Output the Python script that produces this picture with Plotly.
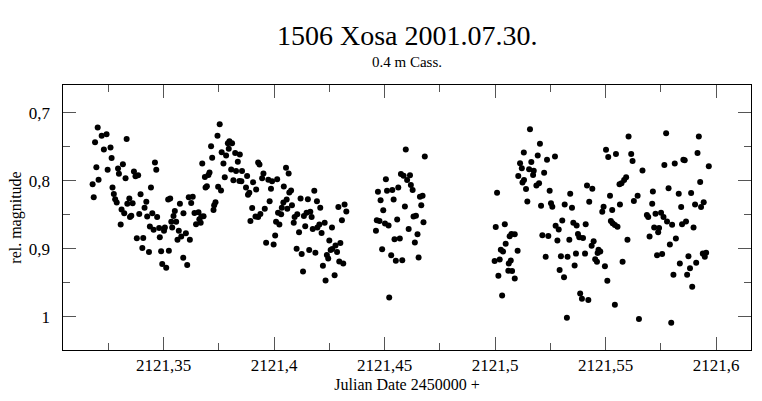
import plotly.graph_objects as go

# Light curve of (1506) Xosa, 2001-07-30, 0.4 m Cassegrain.
# Each segment: (JD - 2450000, relative magnitude)
seg1 = [
    (2121.3202, 0.7217), (2121.3190, 0.7434), (2121.3220, 0.7337), (2121.3242, 0.7313),
    (2121.3230, 0.7540), (2121.3260, 0.7511), (2121.3333, 0.7385), (2121.3265, 0.7665),
    (2121.3196, 0.7800), (2121.3247, 0.7838), (2121.3316, 0.7756), (2121.3294, 0.7819),
    (2121.3298, 0.7896), (2121.3206, 0.7983), (2121.3179, 0.8050), (2121.3184, 0.8243),
    (2121.3328, 0.7963), (2121.3366, 0.7862), (2121.3373, 0.7934), (2121.3385, 0.7920),
    (2121.3461, 0.7732), (2121.3467, 0.7838), (2121.3269, 0.8098), (2121.3443, 0.8098),
    (2121.3275, 0.8195), (2121.3281, 0.8272), (2121.3288, 0.8320), (2121.3345, 0.8262),
    (2121.3360, 0.8329), (2121.3336, 0.8339), (2121.3396, 0.8199), (2121.3422, 0.8310),
    (2121.3414, 0.8397), (2121.3310, 0.8421), (2121.3322, 0.8479), (2121.3354, 0.8513),
    (2121.3348, 0.8532), (2121.3390, 0.8488), (2121.3449, 0.8479), (2121.3426, 0.8527),
    (2121.3471, 0.8532), (2121.3306, 0.8643), (2121.3521, 0.8276), (2121.3530, 0.8262),
    (2121.3574, 0.8339), (2121.3551, 0.8445), (2121.3545, 0.8517), (2121.3535, 0.8604),
    (2121.3557, 0.8604), (2121.3539, 0.8686), (2121.3438, 0.8671), (2121.3455, 0.8720),
    (2121.3480, 0.8696), (2121.3506, 0.8686), (2121.3502, 0.8734), (2121.3483, 0.8830),
    (2121.3569, 0.8734), (2121.3563, 0.8869), (2121.3379, 0.8845), (2121.3408, 0.8840),
    (2121.3404, 0.8989), (2121.3434, 0.9047), (2121.3489, 0.9038), (2121.3524, 0.9028),
    (2121.3494, 0.9225), (2121.3512, 0.9278),
]

seg2 = [
    (2121.3754, 0.7169), (2121.3744, 0.7337), (2121.3715, 0.7491), (2121.3791, 0.7448),
    (2121.3798, 0.7419), (2121.3810, 0.7448), (2121.3795, 0.7530), (2121.3763, 0.7578),
    (2121.3783, 0.7626), (2121.3720, 0.7660), (2121.3824, 0.7592), (2121.3845, 0.7612),
    (2121.3836, 0.7718), (2121.3675, 0.7747), (2121.3928, 0.7732), (2121.3934, 0.7761),
    (2121.3771, 0.7747), (2121.3806, 0.7833), (2121.3828, 0.7857), (2121.3855, 0.7857),
    (2121.3708, 0.7877), (2121.3703, 0.7915), (2121.3687, 0.7944), (2121.3777, 0.7949),
    (2121.3878, 0.7930), (2121.3952, 0.7891), (2121.3946, 0.7963), (2121.4054, 0.7809),
    (2121.4066, 0.7891), (2121.3816, 0.7992), (2121.3843, 0.8002), (2121.3852, 0.8007),
    (2121.3974, 0.7983), (2121.3991, 0.8007), (2121.4014, 0.7978), (2121.3905, 0.8021),
    (2121.3696, 0.8079), (2121.3690, 0.8098), (2121.3747, 0.8089), (2121.3760, 0.8142),
    (2121.3873, 0.8098), (2121.3919, 0.8127), (2121.3986, 0.8118), (2121.4044, 0.8084),
    (2121.3888, 0.8175), (2121.3882, 0.8204), (2121.4069, 0.8171), (2121.3614, 0.8243),
    (2121.3632, 0.8233), (2121.3625, 0.8325), (2121.3590, 0.8479), (2121.3640, 0.8474),
    (2121.3658, 0.8464), (2121.3671, 0.8527), (2121.3681, 0.8522), (2121.3662, 0.8566),
    (2121.3647, 0.8638), (2121.3668, 0.8619), (2121.3735, 0.8315), (2121.3729, 0.8358),
    (2121.3726, 0.8431), (2121.3901, 0.8402), (2121.3980, 0.8301), (2121.3958, 0.8411),
    (2121.3938, 0.8488), (2121.3916, 0.8527), (2121.3928, 0.8532), (2121.3893, 0.8590),
    (2121.4057, 0.8276), (2121.4042, 0.8320), (2121.4035, 0.8397), (2121.4018, 0.8469),
    (2121.4032, 0.8493), (2121.4060, 0.8411), (2121.4009, 0.8604), (2121.4024, 0.8643),
    (2121.4005, 0.8806), (2121.3964, 0.8912), (2121.3998, 0.8936), (2121.3601, 0.8773),
    (2121.3580, 0.8821), (2121.3619, 0.8869), (2121.3589, 0.9134), (2121.3607, 0.9240),
]

seg3 = [
    (2121.4077, 0.8142), (2121.4081, 0.8358), (2121.4093, 0.8532), (2121.4089, 0.8619),
    (2121.4102, 0.8999), (2121.4125, 0.9076), (2121.4131, 0.9336), (2121.4105, 0.8493),
    (2121.4120, 0.8262), (2121.4153, 0.8272), (2121.4182, 0.8146), (2121.4194, 0.8301),
    (2121.4209, 0.8397), (2121.4135, 0.8517), (2121.4147, 0.8469), (2121.4164, 0.8455),
    (2121.4170, 0.8532), (2121.4141, 0.8667), (2121.4113, 0.8758), (2121.4175, 0.8710),
    (2121.4196, 0.8686), (2121.4205, 0.8643), (2121.4215, 0.8768), (2121.4229, 0.8619),
    (2121.4262, 0.8686), (2121.4159, 0.9018), (2121.4187, 0.9057), (2121.4250, 0.8879),
    (2121.4300, 0.8917), (2121.4278, 0.8951), (2121.4263, 0.9004), (2121.4256, 0.9018),
    (2121.4285, 0.9047), (2121.4239, 0.9091), (2121.4245, 0.9144), (2121.4221, 0.9250),
    (2121.4295, 0.9187), (2121.4313, 0.9216), (2121.4233, 0.9466), (2121.4274, 0.9389),
    (2121.4291, 0.8387), (2121.4319, 0.8349), (2121.4327, 0.8450), (2121.4307, 0.8580),
]

seg4 = [
    (2121.4506, 0.7978), (2121.4470, 0.8161), (2121.4511, 0.8146), (2121.4535, 0.8137),
    (2121.4562, 0.8098), (2121.4482, 0.8286), (2121.4541, 0.8276), (2121.4574, 0.7901),
    (2121.4586, 0.7925), (2121.4615, 0.7920), (2121.4602, 0.7987), (2121.4619, 0.8060),
    (2121.4627, 0.8137), (2121.4494, 0.8435), (2121.4592, 0.8378), (2121.4596, 0.7540),
    (2121.4682, 0.7641), (2121.4660, 0.8233), (2121.4672, 0.8219), (2121.4666, 0.8358),
    (2121.4465, 0.8580), (2121.4477, 0.8590), (2121.4461, 0.8734), (2121.4502, 0.8628),
    (2121.4518, 0.8657), (2121.4557, 0.8570), (2121.4631, 0.8527), (2121.4642, 0.8513),
    (2121.4676, 0.8609), (2121.4609, 0.8710), (2121.4649, 0.8787), (2121.4637, 0.8908),
    (2121.4545, 0.8859), (2121.4569, 0.8850), (2121.4489, 0.9009), (2121.4530, 0.9095),
    (2121.4551, 0.9177), (2121.4580, 0.9168), (2121.4654, 0.9129), (2121.4521, 0.9717),
]

seg5 = [
    (2121.5158, 0.7241), (2121.5203, 0.7453), (2121.5130, 0.7583), (2121.5193, 0.7626),
    (2121.5235, 0.7689), (2121.5271, 0.7641), (2121.5164, 0.7723), (2121.5113, 0.7742),
    (2121.5121, 0.7814), (2121.5154, 0.7829), (2121.5175, 0.7853), (2121.5222, 0.7882),
    (2121.5105, 0.7930), (2121.5131, 0.7987), (2121.5124, 0.8026), (2121.5172, 0.7915),
    (2121.5199, 0.8036), (2121.5187, 0.8069), (2121.5140, 0.8122), (2121.5247, 0.8146),
    (2121.5009, 0.8175), (2121.5146, 0.8305), (2121.5208, 0.8368), (2121.5253, 0.8329),
    (2121.5259, 0.8382), (2121.5315, 0.8349), (2121.5044, 0.8638), (2121.5003, 0.8681),
    (2121.5074, 0.8782), (2121.5089, 0.8787), (2121.5066, 0.8816), (2121.5048, 0.8927),
    (2121.5026, 0.9013), (2121.5036, 0.9042), (2121.5102, 0.9028), (2121.5214, 0.8802),
    (2121.5241, 0.8811), (2121.5282, 0.8879), (2121.5274, 0.8662), (2121.5288, 0.8715),
    (2121.5304, 0.8585), (2121.4998, 0.9182), (2121.5021, 0.9158), (2121.5071, 0.9172),
    (2121.5062, 0.9216), (2121.5015, 0.9399), (2121.5060, 0.9322), (2121.5077, 0.9327),
    (2121.5089, 0.9437), (2121.5229, 0.9119), (2121.5298, 0.9110), (2121.5292, 0.9312),
    (2121.5312, 0.9418), (2121.5032, 0.9688),
]

seg6 = [
    (2121.5604, 0.7347), (2121.5502, 0.7544), (2121.5512, 0.7650), (2121.5547, 0.7607),
    (2121.5616, 0.7607), (2121.5622, 0.7708), (2121.5667, 0.7848), (2121.5593, 0.7949),
    (2121.5584, 0.7987), (2121.5563, 0.8050), (2121.5572, 0.8036), (2121.5416, 0.8069),
    (2121.5440, 0.8118), (2121.5340, 0.8190), (2121.5520, 0.8219), (2121.5645, 0.8219),
    (2121.5628, 0.8296), (2121.5348, 0.8397), (2121.5426, 0.8310), (2121.5491, 0.8382),
    (2121.5485, 0.8455), (2121.5530, 0.8431), (2121.5565, 0.8349), (2121.5687, 0.8503),
    (2121.5693, 0.8532), (2121.5524, 0.8590), (2121.5532, 0.8623), (2121.5542, 0.8652),
    (2121.5554, 0.8676), (2121.5354, 0.8619), (2121.5369, 0.8657), (2121.5410, 0.8638),
    (2121.5336, 0.8869), (2121.5375, 0.8782), (2121.5381, 0.8830), (2121.5398, 0.8840),
    (2121.5446, 0.8888), (2121.5437, 0.8956), (2121.5599, 0.8869), (2121.5699, 0.8821),
    (2121.5468, 0.9013), (2121.5476, 0.9042), (2121.5464, 0.9062), (2121.5328, 0.9119),
    (2121.5366, 0.9071), (2121.5407, 0.9071), (2121.5453, 0.9153), (2121.5461, 0.9192),
    (2121.5360, 0.9245), (2121.5497, 0.9259), (2121.5577, 0.9192), (2121.5508, 0.9471),
    (2121.5385, 0.9659), (2121.5393, 0.9736), (2121.5422, 0.9755), (2121.5542, 0.9823),
    (2121.5325, 1.0015), (2121.5651, 1.0035),
]

seg7 = [
    (2121.5774, 0.7299), (2121.5922, 0.7347), (2121.5916, 0.7592), (2121.5766, 0.7766),
    (2121.5813, 0.7747), (2121.5852, 0.7689), (2121.5858, 0.7698), (2121.5967, 0.7785),
    (2121.5928, 0.8016), (2121.5714, 0.8156), (2121.5785, 0.8108), (2121.5831, 0.8190),
    (2121.5887, 0.8180), (2121.5711, 0.8339), (2121.5842, 0.8387), (2121.5905, 0.8349),
    (2121.5932, 0.8387), (2121.5944, 0.8315), (2121.5726, 0.8484), (2121.5751, 0.8469),
    (2121.5762, 0.8532), (2121.5778, 0.8599), (2121.5801, 0.8647), (2121.5846, 0.8638),
    (2121.5864, 0.8599), (2121.5898, 0.8686), (2121.5720, 0.8686), (2121.5742, 0.8696),
    (2121.5738, 0.8758), (2121.5818, 0.8850), (2121.5791, 0.8936), (2121.5733, 0.9095),
    (2121.5756, 0.9076), (2121.5875, 0.9110), (2121.5940, 0.9071), (2121.5955, 0.9057),
    (2121.5949, 0.9119), (2121.5836, 0.9216), (2121.5910, 0.9206), (2121.5882, 0.9288),
    (2121.5807, 0.9384), (2121.5869, 0.9384), (2121.5892, 0.9558), (2121.5797, 1.0088),
]

segments = [seg1, seg2, seg3, seg4, seg5, seg6, seg7]

x_tickvals = [2121.35, 2121.4, 2121.45, 2121.5, 2121.55, 2121.6]
x_ticktext = ["2121,35", "2121,4", "2121,45", "2121,5", "2121,55", "2121,6"]
x_minor = [2121.325, 2121.375, 2121.425, 2121.475, 2121.525, 2121.575]
y_tickvals = [0.7, 0.8, 0.9, 1.0]
y_ticktext = ["0,7", "0,8", "0,9", "1"]
y_minor = [0.75, 0.85, 0.95]

jd = [p[0] for s in segments for p in s]
mag = [p[1] for s in segments for p in s]

fig = go.Figure(go.Scatter(
    x=jd, y=mag, mode="markers",
    marker=dict(size=6, color="black", line=dict(width=0)),
    hoverinfo="x+y",
))

serif = "Liberation Serif"
tick_col = "#555555"
gap = "\u00a0\u00a0"  # keeps the y labels clear of the inner tick marks

fig.update_layout(
    width=762, height=401,
    margin=dict(l=63, r=10, t=85, b=46),
    paper_bgcolor="white", plot_bgcolor="white",
    font=dict(family=serif, color="black", size=15),
    showlegend=False,
    annotations=[
        dict(text="1506 Xosa 2001.07.30.", xref="paper", yref="paper",
             x=0.5, y=1.185, xanchor="center", yanchor="middle",
             showarrow=False, font=dict(family=serif, size=28, color="black")),
        dict(text="0.4 m Cass.", xref="paper", yref="paper",
             x=0.5, y=1.085, xanchor="center", yanchor="middle",
             showarrow=False, font=dict(family=serif, size=15, color="black")),
    ],
)

fig.update_xaxes(
    range=[2121.3045, 2121.6158],
    tickvals=x_tickvals, ticktext=x_ticktext,
    ticks="inside", ticklen=13, tickwidth=1, tickcolor=tick_col,
    minor=dict(tickvals=x_minor, ticks="inside", ticklen=7, tickcolor=tick_col),
    showline=True, linecolor="black", linewidth=1, mirror="ticks",
    showgrid=False, zeroline=False,
    tickfont=dict(family=serif, size=17),
    title=dict(text="Julian Date 2450000 +", font=dict(family=serif, size=16), standoff=4),
)

fig.update_yaxes(
    range=[1.049, 0.659],
    tickvals=y_tickvals, ticktext=[t + gap for t in y_ticktext],
    ticks="inside", ticklen=13, tickwidth=1, tickcolor=tick_col,
    minor=dict(tickvals=y_minor, ticks="inside", ticklen=7, tickcolor=tick_col),
    showline=True, linecolor="black", linewidth=1, mirror="ticks",
    showgrid=False, zeroline=False,
    tickfont=dict(family=serif, size=17),
    title=dict(text="rel. magnitude", font=dict(family=serif, size=16), standoff=3),
)

fig.write_html("out.html")
